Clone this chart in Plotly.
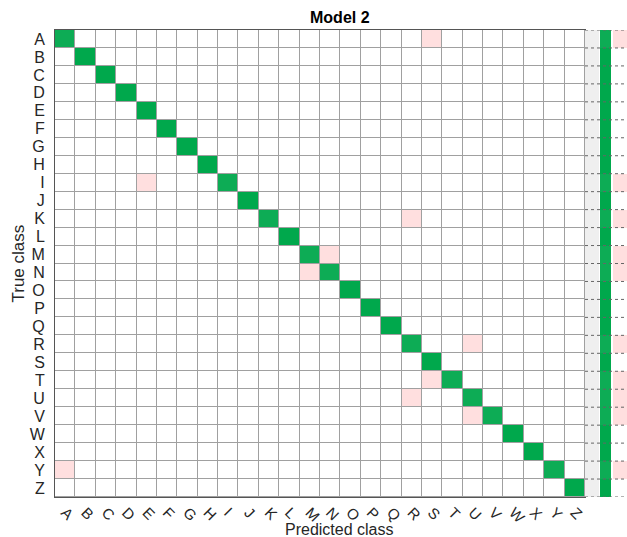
import numpy as np
import plotly.graph_objects as go

classes = list("ABCDEFGHIJKLMNOPQRSTUVWXYZ")
samples_per_class = 20
err_true = ["A", "I", "K", "M", "N", "R", "T", "U", "V", "Y"]
err_pred = ["S", "E", "R", "N", "M", "U", "S", "R", "U", "A"]
err_count = [1, 1, 1, 1, 1, 1, 1, 1, 1, 1]

n = len(classes)
idx = {c: i for i, c in enumerate(classes)}
cm = np.zeros((n, n))
for i in range(n):
    cm[i, i] = samples_per_class
for t, p, c in zip(err_true, err_pred, err_count):
    cm[idx[t], idx[p]] += c
    cm[idx[t], idx[t]] -= c

diag = np.full((n, n), np.nan)
off = np.full((n, n), np.nan)
for i in range(n):
    for j in range(n):
        if i == j:
            diag[i, j] = cm[i, j]
        elif cm[i, j] > 0:
            off[i, j] = cm[i, j]

row_tot = cm.sum(axis=1)
correct_pct = np.diag(cm) / row_tot * 100
incorrect_pct = 100 - correct_pct

GREEN = "#00a84c"
RED = "#ff0000"
GRID = "#a0a0a0"

fig = go.Figure()
common = dict(x=classes, y=classes, xgap=1, ygap=1, showscale=False, hoverinfo="skip")
fig.add_trace(go.Heatmap(z=np.zeros((n, n)), colorscale=[[0, "white"], [1, "white"]], zmin=0, zmax=1, **common))
fig.add_trace(go.Heatmap(z=diag, colorscale=[[0, "white"], [1, GREEN]], zmin=0, zmax=samples_per_class, **common))
fig.add_trace(go.Heatmap(z=off, colorscale=[[0, "white"], [1, RED]], zmin=0, zmax=8, **common))

# row summary (row-normalized), drawn on a numeric y axis (row index)
rows = list(range(n))
fig.add_trace(go.Heatmap(z=correct_pct.reshape(-1, 1), x0=20.5, dx=11, y=rows,
                         colorscale=[[0, "white"], [1, GREEN]], zmin=0, zmax=100,
                         showscale=False, hoverinfo="skip", xaxis="x2", yaxis="y2"))
fig.add_trace(go.Heatmap(z=incorrect_pct.reshape(-1, 1), x0=36, dx=16, y=rows,
                         colorscale=[[0, "white"], [1, RED]], zmin=0, zmax=40,
                         showscale=False, hoverinfo="skip", xaxis="x2", yaxis="y2"))

shapes = [
    dict(type="rect", xref="x2", yref="y2", x0=0, x1=14, y0=-0.5, y1=n - 0.5,
         fillcolor="#efefef", line=dict(width=0), layer="below"),
    dict(type="rect", xref="x2", yref="y2", x0=14, x1=42, y0=-0.5, y1=n - 0.5,
         fillcolor="white", line=dict(width=0), layer="below"),
]
for k in range(n + 1):
    shapes.append(dict(type="line", xref="x2", yref="y2", x0=0, x1=42, y0=k - 0.5, y1=k - 0.5,
                       line=dict(color="#666666", width=1, dash="dot"), layer="above"))

W, H = 627, 537
ml, mr, mt, mb = 55, 0, 30, 40
pw = W - ml - mr
split = (585 - ml) / pw

fig.update_layout(
    width=W, height=H,
    margin=dict(l=ml, r=mr, t=mt, b=mb, autoexpand=False),
    paper_bgcolor="white", plot_bgcolor=GRID,
    font=dict(family="Liberation Sans, Arial, sans-serif", color="#262626"),
    xaxis=dict(domain=[0, split], type="category", showgrid=False, zeroline=False,
               showline=True, mirror=True, linecolor="#555555", linewidth=1,
               tickmode="array", tickvals=classes, ticktext=classes,
               tickangle=45, tickfont=dict(size=15), ticks="", automargin=False),
    yaxis=dict(domain=[0, 1], type="category", autorange="reversed", showgrid=False,
               zeroline=False, showline=True, mirror=True, linecolor="#555555", linewidth=1,
               tickmode="array", tickvals=classes, ticktext=classes,
               tickfont=dict(size=16), ticks="", ticklabelstandoff=6, automargin=False),
    xaxis2=dict(domain=[split, 1], range=[0, 42], showticklabels=False, showgrid=False,
                zeroline=False, anchor="y2", fixedrange=True, automargin=False),
    yaxis2=dict(domain=[0, 1], range=[n - 0.5, -0.5], anchor="x2", showticklabels=False,
                showgrid=False, zeroline=False, automargin=False),
    shapes=shapes,
    annotations=[
        dict(text="<b>Model 2</b>", xref="paper", yref="paper", x=(340 - ml) / pw, y=1,
             yanchor="bottom", yshift=2, showarrow=False, font=dict(size=16, color="black")),
        dict(text="Predicted class", xref="paper", yref="paper", x=(339 - ml) / pw, y=0,
             yanchor="top", yshift=-22, showarrow=False, font=dict(size=16)),
        dict(text="True class", xref="paper", yref="paper", x=0, xanchor="center", xshift=-37,
             y=0.5, textangle=-90, showarrow=False, font=dict(size=17)),
    ],
)

fig.write_html("out.html", config={"displayModeBar": False},
               post_script="document.body.style.margin='0px';")
